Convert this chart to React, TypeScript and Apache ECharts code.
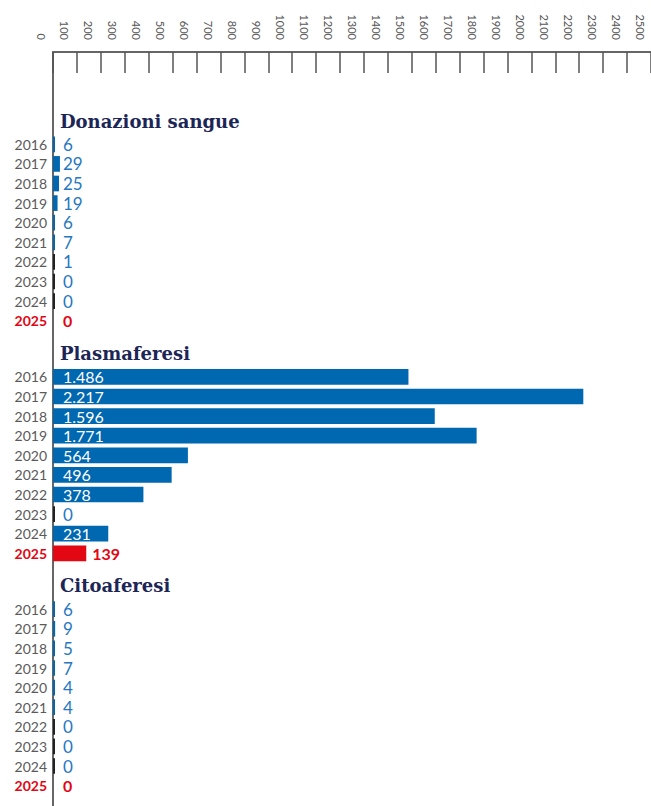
import React, { useEffect, useRef } from 'react';
import * as echarts from 'echarts';

const years = ['2016', '2017', '2018', '2019', '2020', '2021', '2022', '2023', '2024', '2025'];
const donazioni = [6, 29, 25, 19, 6, 7, 1, 0, 0, 0];
const plasmaferesi = [1486, 2217, 1596, 1771, 564, 496, 378, 0, 231, 139];
const citoaferesi = [6, 9, 5, 7, 4, 4, 0, 0, 0, 0];
const sectionTitles = ['Donazioni sangue', 'Plasmaferesi', 'Citoaferesi'];
const axisMin = 0;
const axisMax = 2500;
const axisStep = 100;

const BLUE_BAR = '#0067b1';
const BLUE_TEXT = '#2677c0';
const RED = '#e30613';
const DARK = '#222222';
const NAVY = '#1c2656';
const SANS = 'Lato, "Open Sans", sans-serif';

function fmt(v: number): string {
  return String(v).replace(/\B(?=(\d{3})+(?!\d))/g, '.');
}

export default function App() {
  const ref = useRef<HTMLDivElement>(null);
  useEffect(() => {
    if (!ref.current) return;
    const chart = echarts.init(ref.current, null, { renderer: 'svg' });
    const sectionData = [donazioni, plasmaferesi, citoaferesi];
    const tops = [134.5, 367.1, 599.4];
    const titleY = [121, 353, 585];
    const rowsH = 196;
    const last = years.length - 1;

    const grids: any[] = [
      { left: 41, width: 599, top: 52, height: 1 },
      { left: 53, width: 599, top: 52, height: 754 },
    ];
    const xAxes: any[] = [
      {
        gridIndex: 0, type: 'value', position: 'top', min: axisMin, max: axisMax, interval: axisStep,
        axisLine: { show: false }, axisTick: { show: false }, splitLine: { show: false },
        axisLabel: {
          show: true, rotate: -90, margin: 12, fontSize: 11, color: '#555', fontFamily: SANS,
          formatter: (v: number) => String(v),
        },
      },
      {
        gridIndex: 1, type: 'value', position: 'top', min: axisMin, max: axisMax, interval: axisStep,
        axisLine: { show: true, onZero: false, lineStyle: { color: '#666', width: 2 } },
        axisTick: { show: true, inside: true, length: 21, lineStyle: { color: '#555', width: 1.5 } },
        axisLabel: { show: false }, splitLine: { show: false },
      },
    ];
    const yAxes: any[] = [
      { gridIndex: 0, type: 'value', show: false },
      {
        gridIndex: 1, type: 'value', position: 'left',
        axisLine: { show: true, onZero: false, lineStyle: { color: '#666', width: 2 } },
        axisTick: { show: false }, axisLabel: { show: false }, splitLine: { show: false },
      },
    ];
    const series: any[] = [];

    sectionData.forEach((arr, si) => {
      const gi = si + 2;
      grids.push({ left: 53, width: 599, top: tops[si], height: rowsH });
      xAxes.push({ gridIndex: gi, type: 'value', min: axisMin, max: axisMax, show: false });
      yAxes.push({
        gridIndex: gi, type: 'category', data: years, inverse: true,
        axisLine: { show: false }, axisTick: { show: false }, splitLine: { show: false },
        axisLabel: {
          margin: 6, fontSize: 14, color: '#5a5a5a', fontFamily: SANS,
          formatter: (v: string) => (v === years[last] ? `{r|${v}}` : v),
          rich: { r: { color: RED, fontWeight: 'bold', fontSize: 14, fontFamily: SANS } },
        },
      });
      const data = arr.map((v, i) => {
        const isLast = i === last;
        const big = v > 150;
        let color = BLUE_BAR;
        if (isLast) color = v > 0 ? RED : 'transparent';
        else if (v <= 1) color = DARK;
        const label: any = {
          show: true,
          formatter: fmt(v),
          fontFamily: SANS,
          fontSize: big ? 16 : 17,
          color: big ? '#ffffff' : BLUE_TEXT,
          position: 'insideLeft',
          distance: 10,
        };
        if (isLast) {
          label.color = RED;
          label.fontWeight = 'bold';
          label.fontSize = 16;
          if (v > 0) {
            label.position = 'right';
            label.distance = 6;
          }
        }
        return { value: v, itemStyle: { color }, label };
      });
      series.push({
        type: 'bar', xAxisIndex: gi, yAxisIndex: gi, data,
        barCategoryGap: '20%', barMinHeight: 2,
      });
    });

    chart.setOption({
      animation: false,
      grid: grids,
      xAxis: xAxes,
      yAxis: yAxes,
      series,
      graphic: sectionTitles.map((t, i) => ({
        type: 'text', x: 60, y: titleY[i],
        style: {
          text: t, fill: NAVY, fontFamily: '"DejaVu Serif", serif', fontWeight: 'bold', fontSize: 18,
          verticalAlign: 'middle', align: 'left',
        },
      })),
    });
    return () => chart.dispose();
  }, []);
  return (
    <div
      ref={ref}
      style={{ position: 'absolute', left: 0, top: 0, width: 651, height: 806 }}
    />
  );
}
